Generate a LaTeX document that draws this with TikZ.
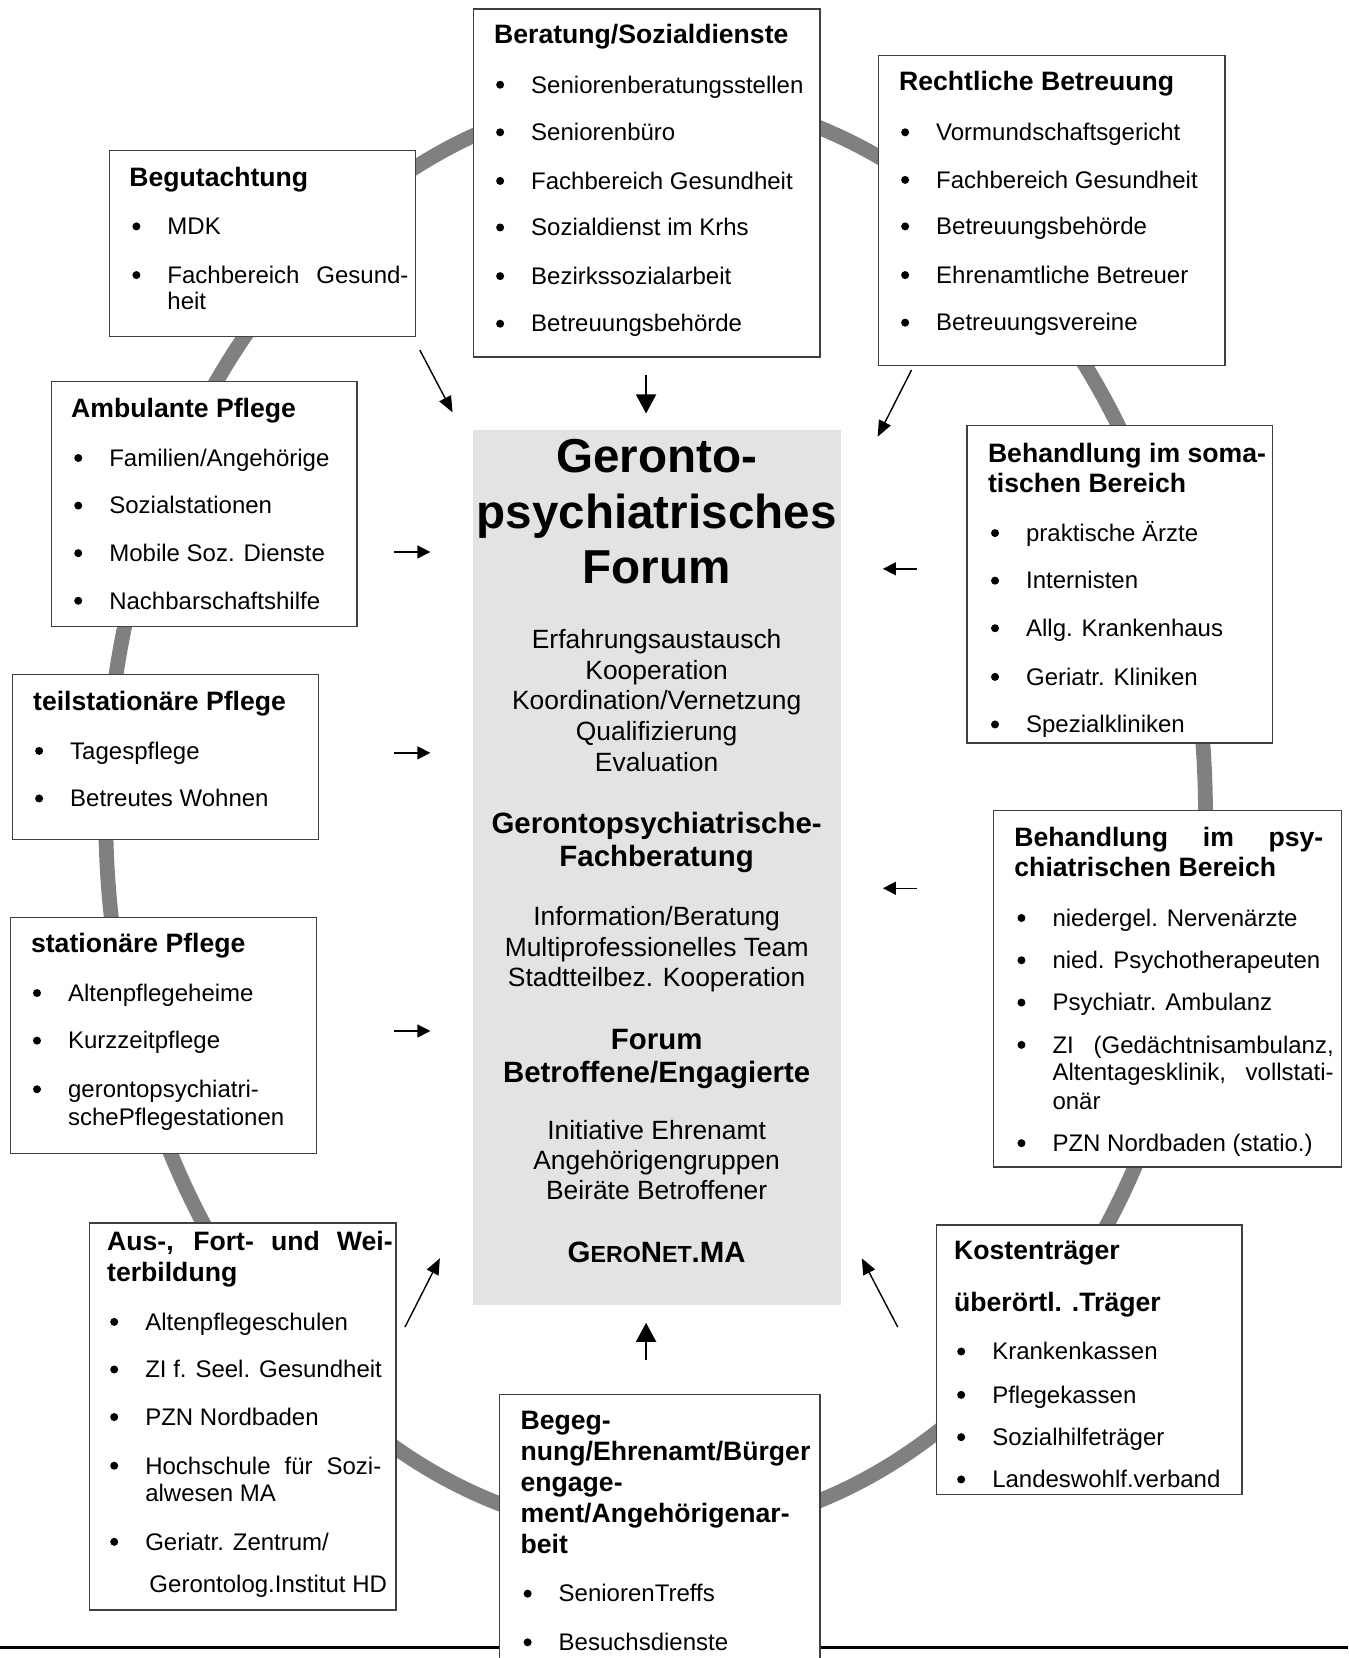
\documentclass[tikz,border=0pt]{standalone}
\usepackage{fontspec}
\setmainfont{Liberation Sans}
\usetikzlibrary{arrows.meta}
\definecolor{ringgray}{HTML}{808080}
\definecolor{forumgray}{HTML}{E3E3E3}
\definecolor{boxline}{HTML}{404040}
\newcommand\boxat[5]{\node[box, minimum width={(#4-#2)*0.5286pt}, minimum height={(#5-#3)*0.5286pt}] (#1) at (#2,#3) {};}
\newcommand\itm[4]{\node[bul] (#1b) at (#2-29,#3) {}; \node[itemtxt] (#1) at (#2,#3) {#4};}
\tikzset{
  box/.style={draw=boxline, line width=0.6pt, fill=white, anchor=north west, inner sep=0pt},
  head/.style={font=\fontsize{13.3}{16}\selectfont\bfseries, anchor=mid west, inner sep=0pt, yshift=-2.1pt},
  itemtxt/.style={font=\fontsize{12}{14}\selectfont, anchor=mid west, inner sep=0pt, yshift=-2.1pt},
  bul/.style={circle, fill=black, inner sep=0pt, minimum size=4pt, yshift=-0.6pt},
  ctitle/.style={font=\fontsize{23.8}{28}\selectfont\bfseries, anchor=mid, inner sep=0pt, yshift=-5.3pt},
  csub/.style={font=\fontsize{14.7}{17}\selectfont\bfseries, anchor=mid, inner sep=0pt, yshift=-3pt},
  ctext/.style={font=\fontsize{13.2}{16}\selectfont, anchor=mid, inner sep=0pt, yshift=-2.2pt},
  arrsmall/.style={-{Triangle[length=6.5pt,width=6.5pt]}, line width=0.7pt},
  arrdiag/.style={-{Triangle[length=8pt,width=6.5pt]}, line width=0.7pt},
  arrbig/.style={-{Triangle[length=9.5pt,width=10pt]}, line width=0.9pt},
}
\begin{document}
\begin{tikzpicture}[x=0.5286pt, y=-0.5286pt]
\useasboundingbox (0,0) rectangle (1275,1568);
\clip (0,0) rectangle (1275,1568);
\fill[white] (0,0) rectangle (1275,1568);
% ring and base line
\draw[ringgray, line width=7.4pt] (620,770) ellipse [x radius=274.9pt, y radius=359.4pt];
\coordinate (baseL) at (0,1558);
\coordinate (baseR) at (1275,1558);
\draw[black, line width=1.1pt] (baseL) -- (baseR);
% centre box
\node[fill=forumgray, anchor=north west, inner sep=0pt, minimum width={(795-447)*0.5286pt}, minimum height={(1234-406)*0.5286pt}] (forum) at (447,406) {};
\node[ctitle] (t1) at (621,432) {Geronto-};
\node[ctitle] (t2) at (621,485) {psychiatrisches};
\node[ctitle] (t3) at (621,537) {Forum};
\node[ctext] (c1) at (621,604) {Erfahrungsaustausch};
\node[ctext] (c2) at (621,633) {Kooperation};
\node[ctext] (c3) at (621,662) {Koordination/Vernetzung};
\node[ctext] (c4) at (621,691) {Qualifizierung};
\node[ctext] (c5) at (621,720) {Evaluation};
\node[csub] (s1) at (621,778) {Gerontopsychiatrische-};
\node[csub] (s2) at (621,809) {Fachberatung};
\node[ctext] (c6) at (621,866) {Information/Beratung};
\node[ctext] (c7) at (621,895) {Multiprofessionelles Team};
\node[ctext] (c8) at (621,924) {Stadtteilbez. Kooperation};
\node[csub] (s3) at (621,982) {Forum};
\node[csub] (s4) at (621,1013) {Betroffene/Engagierte};
\node[ctext] (c9) at (621,1068) {Initiative Ehrenamt};
\node[ctext] (c10) at (621,1097) {Angehörigengruppen};
\node[ctext] (c11) at (621,1125) {Beiräte Betroffener};
\node[csub] (gn) at (621,1183) {G\fontsize{11.6}{14}\selectfont ERO\fontsize{14.7}{17}\selectfont N\fontsize{11.6}{14}\selectfont ET\fontsize{14.7}{17}\selectfont .MA};
% Beratung/Sozialdienste
\boxat{bera}{447}{8}{775}{337}
\node[head] (berah) at (467,32) {Beratung/Sozialdienste};
\itm{bera1}{502}{79}{Seniorenberatungsstellen}
\itm{bera2}{502}{124}{Seniorenbüro}
\itm{bera3}{502}{170}{Fachbereich Gesundheit}
\itm{bera4}{502}{214}{Sozialdienst im Krhs}
\itm{bera5}{502}{260}{Bezirkssozialarbeit}
\itm{bera6}{502}{305}{Betreuungsbehörde}
% Rechtliche Betreuung
\boxat{rech}{830}{52}{1158}{345}
\node[head] (rechh) at (850,77) {Rechtliche Betreuung};
\itm{rech1}{885}{124}{Vormundschaftsgericht}
\itm{rech2}{885}{169}{Fachbereich Gesundheit}
\itm{rech3}{885}{213}{Betreuungsbehörde}
\itm{rech4}{885}{259}{Ehrenamtliche Betreuer}
\itm{rech5}{885}{304}{Betreuungsvereine}
% Begutachtung
\boxat{begu}{103}{142}{392}{318}
\node[head] (beguh) at (122,167) {Begutachtung};
\itm{begu1}{158}{213}{MDK}
\itm{begu2}{158}{259}{\makebox[120.5pt][s]{Fachbereich Gesund-}}
\node[itemtxt] (begu2b) at (158,284) {heit};
% Ambulante Pflege
\boxat{ambu}{48}{360}{337}{592}
\node[head] (ambuh) at (67,386) {Ambulante Pflege};
\itm{ambu1}{103}{432}{Familien/Angehörige}
\itm{ambu2}{103}{477}{Sozialstationen}
\itm{ambu3}{103}{522}{Mobile Soz. Dienste}
\itm{ambu4}{103}{567}{Nachbarschaftshilfe}
% teilstationaere Pflege
\boxat{teil}{11}{637}{301}{793}
\node[head] (teilh) at (31,663) {teilstationäre Pflege};
\itm{teil1}{66}{709}{Tagespflege}
\itm{teil2}{66}{754}{Betreutes Wohnen}
% stationaere Pflege
\boxat{stat}{9}{867}{299}{1090}
\node[head] (stath) at (29,892) {stationäre Pflege};
\itm{stat1}{64}{938}{Altenpflegeheime}
\itm{stat2}{64}{983}{Kurzzeitpflege}
\itm{stat3}{64}{1029}{gerontopsychiatri-}
\node[itemtxt] (stat3b) at (64,1055) {schePflegestationen};
% Aus-, Fort- und Weiterbildung
\boxat{ausb}{84}{1156}{374}{1522}
\node[head] (aush1) at (101,1174) {\makebox[142.7pt][s]{Aus-, Fort- und Wei-}};
\node[head] (aush2) at (101,1203) {terbildung};
\itm{aus1}{137}{1249}{Altenpflegeschulen}
\itm{aus2}{137}{1294}{ZI f. Seel. Gesundheit}
\itm{aus3}{137}{1339}{PZN Nordbaden}
\itm{aus4}{137}{1385}{\makebox[118pt][s]{Hochschule für Sozi-}}
\node[itemtxt] (aus4b) at (137,1411) {alwesen MA};
\itm{aus5}{137}{1457}{Geriatr. Zentrum/}
\node[itemtxt] (aus5b) at (141,1497) {Gerontolog.Institut HD};
% Begegnung
\boxat{bege}{472}{1318}{775}{1620}
\node[head] (begeh1) at (492,1343) {Begeg-};
\node[head] (begeh2) at (492,1372) {nung/Ehrenamt/Bürger};
\node[head] (begeh3) at (492,1402) {engage-};
\node[head] (begeh4) at (492,1431) {ment/Angehörigenar-};
\node[head] (begeh5) at (492,1460) {beit};
\itm{bege1}{528}{1506}{SeniorenTreffs}
\itm{bege2}{528}{1552}{Besuchsdienste}
% Kostentraeger
\boxat{kost}{885}{1158}{1174}{1413}
\node[head] (kosth1) at (902,1182) {Kostenträger};
\node[head] (kosth2) at (902,1231) {überörtl. .Träger};
\itm{kost1}{938}{1277}{Krankenkassen}
\itm{kost2}{938}{1318}{Pflegekassen}
\itm{kost3}{938}{1358}{Sozialhilfeträger}
\itm{kost4}{938}{1398}{Landeswohlf.verband}
% Behandlung psychiatrisch
\boxat{psyc}{939}{766}{1268}{1103}
\node[head] (psych1) at (959,792) {\makebox[154.4pt][s]{Behandlung im psy-}};
\node[head] (psych2) at (959,820) {chiatrischen Bereich};
\itm{psyc1}{995}{867}{niedergel. Nervenärzte}
\itm{psyc2}{995}{907}{nied. Psychotherapeuten}
\itm{psyc3}{995}{947}{Psychiatr. Ambulanz}
\itm{psyc4}{995}{987}{\makebox[140.6pt][s]{ZI (Gedächtnisambulanz,}}
\node[itemtxt] (psyc4b) at (995,1013) {\makebox[140.6pt][s]{Altentagesklinik, vollstati-}};
\node[itemtxt] (psyc4c) at (995,1040) {onär};
\itm{psyc5}{995}{1080}{PZN Nordbaden (statio.)}
% Behandlung somatisch
\boxat{soma}{914}{402}{1203}{702}
\node[head] (somah1) at (934,428) {Behandlung im soma-};
\node[head] (somah2) at (934,457) {tischen Bereich};
\itm{soma1}{970}{503}{praktische Ärzte}
\itm{soma2}{970}{548}{Internisten}
\itm{soma3}{970}{593}{Allg. Krankenhaus}
\itm{soma4}{970}{639}{Geriatr. Kliniken}
\itm{soma5}{970}{684}{Spezialkliniken}
% arrows
\coordinate (a1s) at (397,331); \coordinate (a1e) at (428,390);
\coordinate (a2s) at (611,355); \coordinate (a2e) at (611,391);
\coordinate (a3s) at (862,350); \coordinate (a3e) at (830,413);
\coordinate (a4s) at (373,522); \coordinate (a4e) at (407,522);
\coordinate (a5s) at (373,712); \coordinate (a5e) at (407,712);
\coordinate (a6s) at (373,975); \coordinate (a6e) at (407,975);
\coordinate (a7s) at (867,538); \coordinate (a7e) at (835,538);
\coordinate (a8s) at (867,840); \coordinate (a8e) at (835,840);
\coordinate (a9s) at (383,1255); \coordinate (a9e) at (416,1190);
\coordinate (a10s) at (611,1286); \coordinate (a10e) at (611,1251);
\coordinate (a11s) at (849,1255); \coordinate (a11e) at (815,1190);
\draw[arrdiag] (a1s) -- (a1e);
\draw[arrbig] (a2s) -- (a2e);
\draw[arrdiag] (a3s) -- (a3e);
\draw[arrsmall] (a4s) -- (a4e);
\draw[arrsmall] (a5s) -- (a5e);
\draw[arrsmall] (a6s) -- (a6e);
\draw[arrsmall] (a7s) -- (a7e);
\draw[arrsmall] (a8s) -- (a8e);
\draw[arrdiag] (a9s) -- (a9e);
\draw[arrbig] (a10s) -- (a10e);
\draw[arrdiag] (a11s) -- (a11e);
\end{tikzpicture}
\end{document}
